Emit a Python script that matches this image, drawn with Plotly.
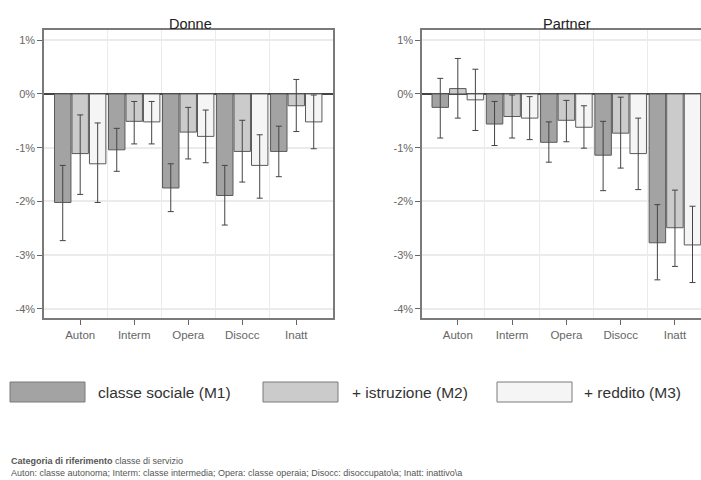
import plotly.graph_objects as go

categories = ["Auton", "Interm", "Opera", "Disocc", "Inatt"]
series_names = ["classe sociale (M1)", "+ istruzione (M2)", "+ reddito (M3)"]

# Donne: estimates and confidence bounds (%)
donne_m1 = [-2.02, -1.04, -1.75, -1.89, -1.07]
donne_m1_lo = [-2.73, -1.44, -2.19, -2.44, -1.54]
donne_m1_hi = [-1.33, -0.64, -1.30, -1.33, -0.60]
donne_m2 = [-1.11, -0.51, -0.71, -1.07, -0.22]
donne_m2_lo = [-1.87, -0.93, -1.21, -1.64, -0.70]
donne_m2_hi = [-0.39, -0.14, -0.25, -0.49, 0.27]
donne_m3 = [-1.30, -0.52, -0.79, -1.33, -0.52]
donne_m3_lo = [-2.02, -0.93, -1.28, -1.94, -1.02]
donne_m3_hi = [-0.54, -0.14, -0.30, -0.76, -0.02]

# Partner
partner_m1 = [-0.25, -0.56, -0.90, -1.14, -2.77]
partner_m1_lo = [-0.82, -0.96, -1.27, -1.80, -3.46]
partner_m1_hi = [0.29, -0.14, -0.52, -0.51, -2.06]
partner_m2 = [0.10, -0.42, -0.49, -0.73, -2.49]
partner_m2_lo = [-0.45, -0.82, -0.89, -1.38, -3.21]
partner_m2_hi = [0.66, -0.02, -0.12, -0.06, -1.79]
partner_m3 = [-0.11, -0.45, -0.62, -1.11, -2.81]
partner_m3_lo = [-0.68, -0.85, -1.01, -1.78, -3.51]
partner_m3_hi = [0.46, -0.05, -0.22, -0.45, -2.09]

y_tickvals = [1, 0, -1, -2, -3, -4]
y_ticktext = ["1%", "0%", "-1%", "-2%", "-3%", "-4%"]

footnote_1 = "<b>Categoria di riferimento</b> classe di servizio"
footnote_2 = ("Auton: classe autonoma; Interm: classe intermedia; Opera: classe operaia; "
              "Disocc: disoccupato\\a; Inatt: inattivo\\a")

colors = ["#a3a3a3", "#cbcbcb", "#f5f5f5"]
edge = "#5a5a5a"
W, H = 701, 480
FONT = "Liberation Sans, Arial, sans-serif"

xpos = list(range(len(categories)))

fig = go.Figure()

panels = [
    ("x", "y", [(donne_m1, donne_m1_lo, donne_m1_hi), (donne_m2, donne_m2_lo, donne_m2_hi), (donne_m3, donne_m3_lo, donne_m3_hi)]),
    ("x2", "y2", [(partner_m1, partner_m1_lo, partner_m1_hi), (partner_m2, partner_m2_lo, partner_m2_hi), (partner_m3, partner_m3_lo, partner_m3_hi)]),
]
for xa, ya, ser in panels:
    for i, (vals, lo, hi) in enumerate(ser):
        fig.add_trace(go.Bar(
            x=xpos, y=vals, name=series_names[i], xaxis=xa, yaxis=ya,
            marker=dict(color=colors[i], line=dict(color=edge, width=1)),
            error_y=dict(type="data", symmetric=False,
                         array=[h - v for h, v in zip(hi, vals)],
                         arrayminus=[v - l for v, l in zip(vals, lo)],
                         color="#444444", thickness=1, width=3),
            showlegend=False, hoverinfo="skip",
        ))

def px_x(p):
    return p / W

def px_y(p):
    return 1 - p / H

ydom = [px_y(318), px_y(30)]
common_x = dict(
    tickmode="array", tickvals=xpos, ticktext=categories,
    ticks="outside", ticklen=5, tickcolor="#666666",
    showgrid=False, zeroline=False,
    minor=dict(tickvals=[0.5, 1.5, 2.5, 3.5], showgrid=True, gridcolor="#ebebeb", gridwidth=1, ticklen=0),
    tickfont=dict(family=FONT, size=11.5, color="#666666"),
    showline=True, linecolor="#7a7a7a", linewidth=1.5, mirror=True,
)
common_y = dict(
    range=[-4.17, 1.19], tickmode="array", tickvals=y_tickvals, ticktext=y_ticktext,
    ticks="outside", ticklen=5, tickcolor="#666666",
    showgrid=True, gridcolor="#ebebeb", gridwidth=1.5,
    zeroline=True, zerolinecolor="#444444", zerolinewidth=2,
    tickfont=dict(family=FONT, size=11, color="#666666"),
    showline=True, linecolor="#7a7a7a", linewidth=1.5,
)

fig.update_layout(
    width=W, height=H,
    margin=dict(l=0, r=0, t=0, b=0),
    paper_bgcolor="white", plot_bgcolor="white",
    barmode="group", bargap=0.03, bargroupgap=0.06,
    xaxis=dict(domain=[px_x(44), px_x(333)], range=[-0.67, 4.68], anchor="y", **common_x),
    yaxis=dict(domain=ydom, anchor="x", mirror=True, **common_y),
    xaxis2=dict(domain=[px_x(422), 1.0], range=[-0.66, 4.48], anchor="y2", **common_x),
    yaxis2=dict(domain=ydom, anchor="x2", mirror=False, **common_y),
    showlegend=False,
)

# panel titles
fig.add_annotation(text="Donne", x=px_x(190), y=px_y(24), xref="paper", yref="paper",
                   xanchor="center", yanchor="middle",
                   showarrow=False, font=dict(family=FONT, size=14.5, color="#222222"))
fig.add_annotation(text="Partner", x=px_x(567), y=px_y(24), xref="paper", yref="paper",
                   xanchor="center", yanchor="middle",
                   showarrow=False, font=dict(family=FONT, size=14.5, color="#222222"))

# legend drawn as boxes and labels
leg_boxes = [(10, 85), (263, 338), (497, 572)]
leg_text_x = [96, 350, 582]
for i, ((x0, x1), tx) in enumerate(zip(leg_boxes, leg_text_x)):
    fig.add_shape(type="rect", xref="paper", yref="paper",
                  x0=px_x(x0), x1=px_x(x1), y0=px_y(402), y1=px_y(382),
                  fillcolor=colors[i], line=dict(color="#7a7a7a", width=1))
    fig.add_annotation(text=series_names[i], x=px_x(tx), y=px_y(392), xref="paper", yref="paper",
                       xanchor="left", yanchor="middle", showarrow=False,
                       font=dict(family=FONT, size=15.5, color="#333333"))

fig.add_annotation(
    text=footnote_1 + "<br>" + footnote_2, x=px_x(10), y=px_y(467), xref="paper", yref="paper",
    xanchor="left", yanchor="middle", align="left", showarrow=False, borderpad=0,
    font=dict(family=FONT, size=9, color="#555555"),
)

fig.write_html("out.html", config={"displayModeBar": False},
               post_script="document.body.style.margin='0px';document.body.style.overflow='hidden';")
